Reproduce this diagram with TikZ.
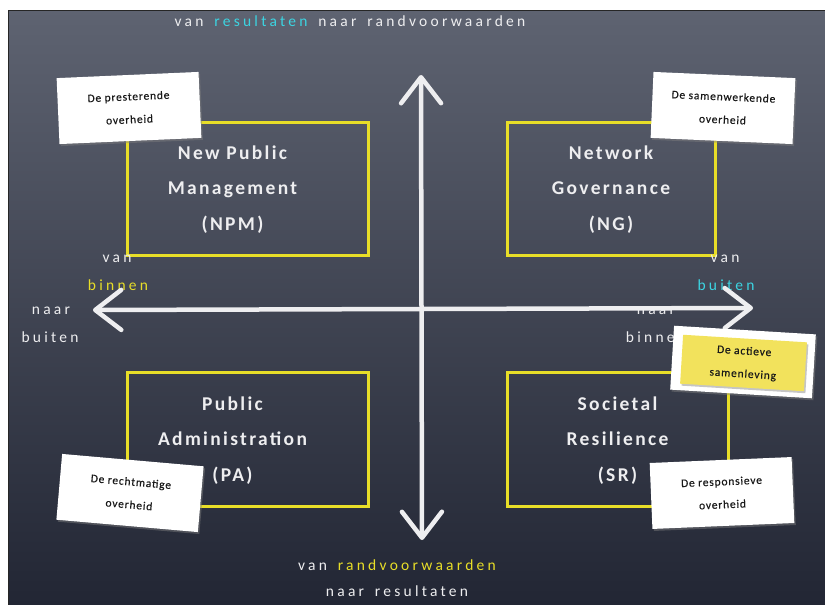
\documentclass[tikz,border=0pt]{standalone}
\usepackage{fontspec}
\setmainfont{Carlito}
\newfontfamily\chalkfont{Carlito}[LetterSpace=21,WordSpace=1.6]
\newfontfamily\titlefont{Carlito}[LetterSpace=12]
\newfontfamily\notefont{Carlito}[LetterSpace=7,FakeBold=0.4]
\usetikzlibrary{arrows.meta,shadows,positioning}

\definecolor{chalkyellow}{RGB}{232,222,40}
\definecolor{chalkcyan}{RGB}{60,212,225}
\definecolor{chalkwhite}{RGB}{238,238,240}
\definecolor{boardtop}{RGB}{94,99,113}
\definecolor{boardbot}{RGB}{34,38,52}
\definecolor{notetext}{RGB}{25,25,25}
\definecolor{noteyellow}{RGB}{242,226,92}

\begin{document}
\begin{tikzpicture}[
					x = 1pt, y = -1pt,
					chalk/.style = {text=chalkwhite, font=\chalkfont\fontsize{15.5}{17}\selectfont},
					title/.style = {text=chalkwhite, align=center, font=\titlefont\bfseries\fontsize{19.5}{35.5}\selectfont},
					quadrant/.style = {draw=chalkyellow, line width=3pt, inner sep=0pt},
					card/.style = {fill=white, align=center, text=notetext, inner sep=0pt,
						font=\notefont\fontsize{11.5}{23}\selectfont,
						minimum width=142pt, minimum height=66pt,
						drop shadow={opacity=0.45, shadow xshift=1.5pt, shadow yshift=-2pt}},
					chalk arrow/.style = {draw=chalkwhite, line width=4.5pt, line cap=round,
						{Straight Barb[length=26pt,width=40pt,round]}-{Straight Barb[length=26pt,width=40pt,round]}}
					]

					\useasboundingbox (0,0) rectangle (825,605);
					\fill[white] (0,0) rectangle (825,605);
					\fill[top color=boardtop, bottom color=boardbot] (8,10) rectangle (825,605);
					\draw[black!85, line width=1pt] (8,605) -- (8,10) -- (825,10);

					% vier kwadranten
					\node[quadrant, minimum width=241pt, minimum height=133pt] (npm) at (247.5,188.5) {};
					\node[quadrant, minimum width=208pt, minimum height=133pt] (ng) at (611,188.5) {};
					\node[quadrant, minimum width=241pt, minimum height=134pt] (pa) at (247.5,439.5) {};
					\node[quadrant, minimum width=221pt, minimum height=134pt] (sr) at (617.5,439.5) {};

					\node[title] (npmtext) at ([xshift=-15pt,yshift=-1pt]npm.center) {New Public\\Management\\(NPM)};
					\node[title] (ngtext) at ([yshift=-1pt]ng.center) {Network\\Governance\\(NG)};
					\node[title] (patext) at ([xshift=-15pt,yshift=-1pt]pa.center) {Public\\Administration\\(PA)};
					\node[title] (srtext) at ([yshift=-1pt]sr.center) {Societal\\Resilience\\(SR)};

					% teksten bij de assen
					\node[chalk] (boven) at (350,21) {van \textcolor{chalkcyan}{resultaten} naar randvoorwaarden};
					\node[chalk] (onder1) at (397,565) {van \textcolor{chalkyellow}{randvoorwaarden}};
					\node[chalk] (onder2) at (397,591) {naar resultaten};

					\node[chalk] (lvan) at (117,259) {van};
					\node[chalk, text=chalkyellow] (lbinnen) at (118,285) {binnen};
					\node[chalk] (lnaar) at (51,311) {naar};
					\node[chalk] (lbuiten) at (50,337) {buiten};

					\node[chalk] (rvan) at (725,259) {van};
					\node[chalk, text=chalkcyan] (rbuiten) at (726,285) {buiten};
					\node[chalk] (rnaar) at (656,311) {naar};
					\node[chalk] (rbinnen) at (656,337) {binnen};

					% assen
					\coordinate (up) at (421,75);
					\coordinate (down) at (422,540);
					\coordinate (left) at (93,310);
					\coordinate (right) at (753,308);
					\draw[chalk arrow] (down) -- (up);
					\draw[chalk arrow] (left) -- (right);

					% briefjes
					\node[card, rotate=2.5] (presterende) at (129,108) {De presterende\\overheid};
					\node[card, rotate=-2.5] (samenwerkende) at (723,108) {De samenwerkende\\overheid};
					\node[card, rotate=-5] (rechtmatige) at (130,493) {De rechtmatige\\overheid};
					\node[card, rotate=2.4] (responsieve) at (722,493) {De responsieve\\overheid};
					\node[card, rotate=-3.5, minimum height=64pt] (actieve) at (743,362) {};
					\node[card, rotate=-3.5, fill=noteyellow, minimum width=124pt, minimum height=49pt, drop shadow={opacity=0}] (actievetext) at (743.5,363) {De actieve\\samenleving};

				\end{tikzpicture}
\end{document}
